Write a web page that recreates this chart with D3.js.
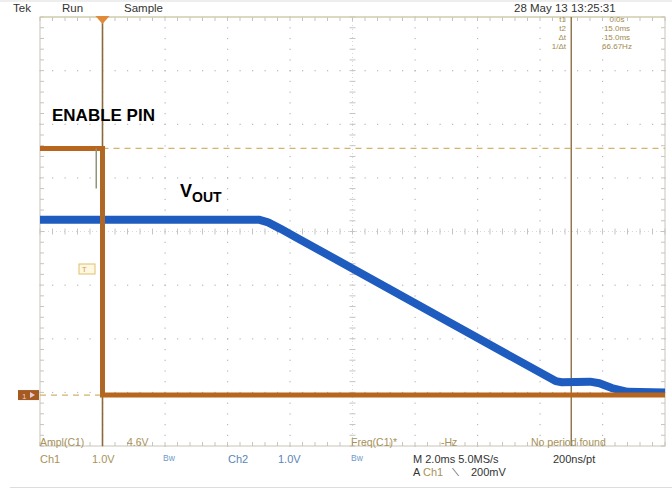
<!DOCTYPE html>
<html><head><meta charset="utf-8">
<script src="https://cdn.jsdelivr.net/npm/d3@7"></script>
<style>
html,body{margin:0;padding:0;background:#fff;}
text{font-family:"Liberation Sans",Arial,sans-serif;}
</style></head>
<body><svg id="c" width="672" height="489"></svg>
<script>
// ---- data (time in ms, voltage in V) ----
const ch1Time  = [-2, 0, 0, 18];
const ch1Volts = [4.6, 4.6, 0, 0];
const ch2Time  = [-2, 5.0, 5.3, 5.7, 6.2, 14.5, 14.7, 15.6, 15.9, 16.3, 16.8, 18];
const ch2Volts = [3.27, 3.27, 3.22, 3.10, 2.94, 0.26, 0.24, 0.25, 0.22, 0.13, 0.06, 0.05];
const cursorTimes = [0, 15];
const headerLabels = ["Tek", "Run", "Sample"];
const dateLabel = "28 May 13 13:25:31";
const cursorLabels = ["t1", "t2", "\u0394t", "1/\u0394t"];
const cursorValues = ["0.0s", "15.0ms", "15.0ms", "66.67Hz"];
const measLabels = ["Ampl(C1)", "4.6V", "Freq(C1)*", "-Hz", "No period found"];

const svg = d3.select("#c");
const L = 40, R = 665, T = 17, B = 446;
const x = d3.scaleLinear().domain([-2, 18]).range([L, R]);
const y = d3.scaleLinear().domain([-0.95, 7.05]).range([B, T]);
const gx = d3.scaleLinear().domain([0, 10]).range([L, R]);
const gy = d3.scaleLinear().domain([0, 8]).range([B, T]);

// outer frame lines
svg.append("line").attr("x1",0).attr("x2",672).attr("y1",1).attr("y2",1).attr("stroke","#ddd");
svg.append("line").attr("x1",10).attr("x2",672).attr("y1",487.5).attr("y2",487.5).attr("stroke","#ddd");

const grid = svg.append("g");
const dotCol = "#b8b8b8";
// interior dotted lines
for (let i = 1; i < 10; i++) {
  if (i === 5) continue;
  d3.range(0, 8.001, 0.2).forEach(v => {
    grid.append("rect").attr("x", gx(i)-0.5).attr("y", gy(v)-0.5).attr("width",1.2).attr("height",1.2).attr("fill",dotCol);
  });
}
for (let j = 1; j < 8; j++) {
  if (j === 4) continue;
  d3.range(0, 10.001, 0.2).forEach(u => {
    grid.append("rect").attr("x", gx(u)-0.5).attr("y", gy(j)-0.5).attr("width",1.2).attr("height",1.2).attr("fill",dotCol);
  });
}
// center cross with minor ticks
const tickCol = "#c4c4c4";
grid.append("line").attr("x1",gx(5)).attr("x2",gx(5)).attr("y1",T).attr("y2",B).attr("stroke","#d8d8d8").attr("stroke-dasharray","1,3");
grid.append("line").attr("x1",L).attr("x2",R).attr("y1",gy(4)).attr("y2",gy(4)).attr("stroke","#d8d8d8").attr("stroke-dasharray","1,3");
d3.range(0, 10.001, 0.2).forEach(u => {
  grid.append("line").attr("x1",gx(u)).attr("x2",gx(u)).attr("y1",gy(4)-3).attr("y2",gy(4)+3).attr("stroke",tickCol);
  grid.append("line").attr("x1",gx(u)).attr("x2",gx(u)).attr("y1",T).attr("y2",T+4).attr("stroke",tickCol);
  grid.append("line").attr("x1",gx(u)).attr("x2",gx(u)).attr("y1",B-4).attr("y2",B).attr("stroke",tickCol);
});
d3.range(0, 8.001, 0.2).forEach(v => {
  grid.append("line").attr("x1",gx(5)-3).attr("x2",gx(5)+3).attr("y1",gy(v)).attr("y2",gy(v)).attr("stroke",tickCol);
  grid.append("line").attr("x1",L).attr("x2",L+4).attr("y1",gy(v)).attr("y2",gy(v)).attr("stroke",tickCol);
  grid.append("line").attr("x1",R-4).attr("x2",R).attr("y1",gy(v)).attr("y2",gy(v)).attr("stroke",tickCol);
});
grid.append("rect").attr("x",L).attr("y",T).attr("width",R-L).attr("height",B-T).attr("fill","none").attr("stroke","#c8c4b4");
grid.append("line").attr("x1",L).attr("x2",R).attr("y1",T).attr("y2",T).attr("stroke","#d4d0a8");

// dashed reference lines
svg.append("line").attr("x1",x(0)).attr("x2",R).attr("y1",y(4.6)).attr("y2",y(4.6))
  .attr("stroke","#d2b46a").attr("stroke-width",1.2).attr("stroke-dasharray","6,5");
svg.append("line").attr("x1",L).attr("x2",x(0)).attr("y1",y(0)).attr("y2",y(0))
  .attr("stroke","#d2b46a").attr("stroke-width",1.2).attr("stroke-dasharray","6,5");

// cursors
svg.append("line").attr("x1",x(cursorTimes[1])).attr("x2",x(cursorTimes[1])).attr("y1",T).attr("y2",B)
  .attr("stroke","#8c7044").attr("stroke-width",1.4);
svg.append("line").attr("x1",x(cursorTimes[0])).attr("x2",x(cursorTimes[0])).attr("y1",T).attr("y2",B)
  .attr("stroke","#8a6a3c").attr("stroke-width",1.6);

// traces
const line = d3.line().x(d => x(d[0])).y(d => y(d[1]));
svg.append("path").datum(ch2Time.map((t,i)=>[t, ch2Volts[i]])).attr("d", line)
  .attr("fill","none").attr("stroke","#1f5cbf").attr("stroke-width",8).attr("stroke-linejoin","round");
svg.append("path").datum(ch1Time.map((t,i)=>[t, ch1Volts[i]])).attr("d", line)
  .attr("fill","none").attr("stroke","#b8661e").attr("stroke-width",5);
svg.append("line").attr("x1",x(0)).attr("x2",x(0)).attr("y1",y(4.6)).attr("y2",y(0))
  .attr("stroke","#a86a2a").attr("stroke-width",2.5);
// glitch
svg.append("line").attr("x1",x(-0.2)).attr("x2",x(-0.2)).attr("y1",y(4.6)).attr("y2",y(3.85))
  .attr("stroke","#8e967a").attr("stroke-width",1.5);

// trigger marker at top
const tx = x(0);
svg.append("path").attr("d",`M${tx-7},${T-1}L${tx+7},${T-1}L${tx},${T+7}Z`).attr("fill","#e08a3a");
// ground marker
svg.append("rect").attr("x",18).attr("y",y(0)-5).attr("width",21).attr("height",10).attr("fill","#a55a20");
svg.append("text").attr("x",22).attr("y",y(0)+3.5).attr("font-size",8).attr("fill","#e8c8d8").text("1");
svg.append("path").attr("d",`M30,${y(0)-3}L35,${y(0)}L30,${y(0)+3}Z`).attr("fill","#e8c8d8");
// trigger level marker
svg.append("rect").attr("x",79).attr("y",264).attr("width",16).attr("height",10).attr("fill","#fff7e0").attr("stroke","#e0c070");
svg.append("text").attr("x",82).attr("y",272).attr("font-size",7.5).attr("fill","#c8a050").text("T");

// header texts
const hx = [13, 62, 124];
headerLabels.forEach((s,i)=>svg.append("text").attr("x",hx[i]).attr("y",11.5).attr("font-size",11.5).attr("fill","#333").text(s));
svg.append("text").attr("x",514).attr("y",11.5).attr("font-size",11.5).attr("fill","#333").text(dateLabel);

// cursor readouts
cursorLabels.forEach((s,i)=>svg.append("text").attr("x",566).attr("y",22+9*i).attr("font-size",8)
  .attr("text-anchor","end").attr("fill","#a08a4e").text(s));
cursorValues.forEach((s,i)=>svg.append("text").attr("x",617).attr("y",22+9*i).attr("font-size",8)
  .attr("text-anchor","middle").attr("fill","#a08a4e").text(s));

// measurements
const mx = [40, 127, 351, 441, 531];
measLabels.forEach((s,i)=>svg.append("text").attr("x",mx[i]).attr("y",446).attr("font-size",10.5)
  .attr("fill","#a8925a").text(s));

// bottom status
const st = (s,xx,yy,col,fs)=>svg.append("text").attr("x",xx).attr("y",yy).attr("font-size",fs||11).attr("fill",col).text(s);
st("Ch1",40,463,"#a8925a"); st("1.0V",92,463,"#a8925a");
st("Bw",163,461,"#6f9ac8",8.5);
st("Ch2",228,463,"#5a86b8"); st("1.0V",278,463,"#5a86b8");
st("Bw",351,461,"#6f9ac8",8.5);
st("M 2.0ms 5.0MS/s",413,463,"#333");
st("200ns/pt",553,463,"#333");
st("A",413,476,"#333"); st("Ch1",423,476,"#a8925a"); st("\u27CD",452,476,"#333",10); st("200mV",471,476,"#333");

// annotations
svg.append("text").attr("x",52).attr("y",121).attr("font-size",17).attr("font-weight","bold").attr("fill","#000").text("ENABLE PIN");
const vt = svg.append("text").attr("x",180).attr("y",197).attr("font-size",18).attr("font-weight","bold").attr("fill","#000");
vt.append("tspan").text("V");
vt.append("tspan").attr("dy",5).attr("font-size",14).text("OUT");
</script></body></html>
